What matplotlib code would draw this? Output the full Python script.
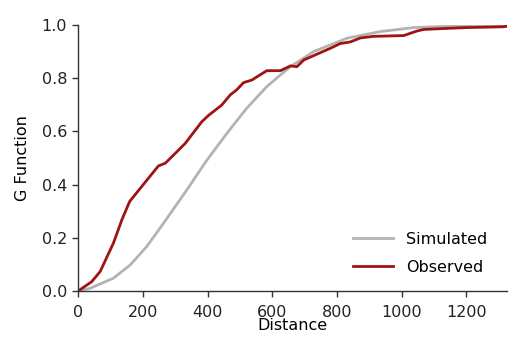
import matplotlib

matplotlib.use("Agg")
import matplotlib.pyplot as plt

plt.rcParams["font.family"] = ["DejaVu Sans"]

# G function, simulated (smooth) vs observed
sim_dist = [0, 37, 109, 161, 212, 264, 336, 398, 460, 521, 583, 625, 656,
            728, 831, 934, 1037, 1140, 1240, 1325]
sim_g = [0.0, 0.01, 0.048, 0.098, 0.167, 0.255, 0.38, 0.492, 0.593, 0.687,
         0.768, 0.812, 0.843, 0.90, 0.95, 0.975, 0.99, 0.995, 0.998, 1.0]

obs_dist = [0, 42, 68, 109, 135, 159, 192, 248, 269, 295, 331, 382, 403, 444,
            470, 490, 511, 537, 583, 625, 656, 676, 697, 779, 810, 841, 872,
            913, 1006, 1047, 1068, 1140, 1202, 1314, 1325]
obs_g = [0.0, 0.035, 0.073, 0.18, 0.267, 0.336, 0.386, 0.47, 0.48, 0.511,
         0.555, 0.636, 0.66, 0.699, 0.737, 0.756, 0.783, 0.793, 0.828, 0.828,
         0.846, 0.843, 0.868, 0.912, 0.93, 0.936, 0.951, 0.957, 0.96, 0.977,
         0.983, 0.987, 0.99, 0.993, 0.995]

x_ticks = [0, 200, 400, 600, 800, 1000, 1200]
y_ticks = [0.0, 0.2, 0.4, 0.6, 0.8, 1.0]

fig = plt.figure(figsize=(5.21, 3.61), dpi=100)
ax = fig.add_axes([0.150, 0.194, 0.823, 0.737])

ax.plot(sim_dist, sim_g, color="#b3b3b3", lw=2.0, label="Simulated")
ax.plot(obs_dist, obs_g, color="#9e1414", lw=2.0, label="Observed")

ax.set_xlim(0, 1325)
ax.set_ylim(0, 1.0)
ax.set_xticks(x_ticks)
ax.set_yticks(y_ticks)
ax.set_yticklabels([f"{v:.1f}" for v in y_ticks])
ax.set_xlabel("Distance", fontsize=11.5, labelpad=-1)
ax.set_ylabel("G Function", fontsize=11.5, labelpad=8.5)

for side in ("top", "right"):
    ax.spines[side].set_visible(False)
for side in ("left", "bottom"):
    ax.spines[side].set_color("#333333")
    ax.spines[side].set_linewidth(1.0)
ax.tick_params(colors="#333333", labelcolor="#222222", labelsize=11.5,
               length=4, width=1.0)
ax.tick_params(axis="x", pad=6)
ax.tick_params(axis="y", pad=4)

ax.legend(loc="lower right", frameon=False, fontsize=11.5, handlelength=2.5,
          handletextpad=0.8, labelspacing=0.8, bbox_to_anchor=(0.987, 0.007))

fig.savefig("out.png", dpi=100)
